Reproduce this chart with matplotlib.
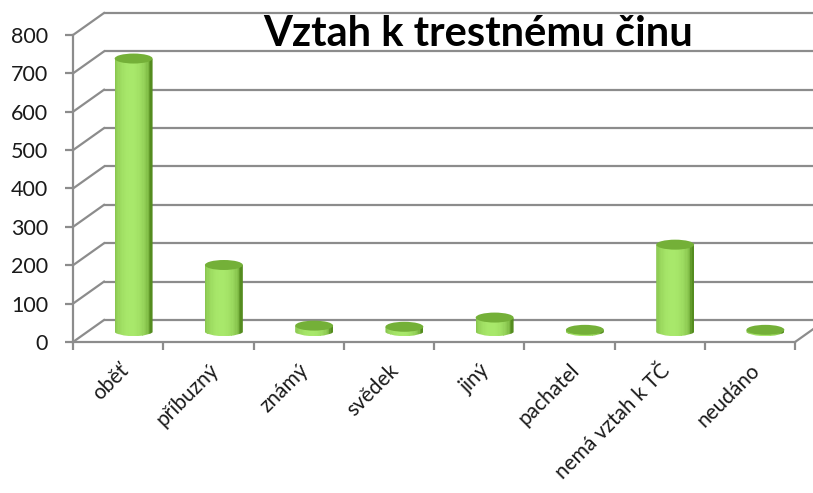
import matplotlib
matplotlib.use("Agg")
import matplotlib.pyplot as plt
import matplotlib.transforms as mtransforms
from matplotlib.path import Path
from matplotlib.patches import PathPatch, Ellipse
import numpy as np

plt.rcParams['font.family'] = ['Lato', 'DejaVu Sans']

# data
categories = ["oběť", "příbuzný", "známý", "svědek", "jiný", "pachatel", "nemá vztah k TČ", "neudáno"]
values = [710, 172, 14, 11, 35, 3, 225, 3]
yticks = [0, 100, 200, 300, 400, 500, 600, 700, 800]
title = "Vztah k trestnému činu"

grid_col = "#8c8c8c"
dark_green = np.array([0.33, 0.55, 0.12])
light_green = np.array([0.66, 0.91, 0.42])
top_green = "#74b038"

fig = plt.figure(figsize=(8.13, 4.93), dpi=100)
ax = fig.add_axes([0.0898, 0.3063, 0.8881, 0.6227])
ax.set_xlim(-0.5, len(categories) - 0.5)
ax.set_ylim(0, 800)

# depth offsets (inches), back wall and middle of the floor
dx, dy = 0.31, 0.22
back = ax.transData + mtransforms.ScaledTranslation(dx, dy, fig.dpi_scale_trans)
mid = ax.transData + mtransforms.ScaledTranslation(dx / 2, dy / 2, fig.dpi_scale_trans)

# size of the depth offset in data units
p0 = ax.transData.inverted().transform(ax.transData.transform((0, 0)))
p1 = ax.transData.inverted().transform(ax.transData.transform((0, 0)) + np.array([dx * 100, dy * 100]))
ddx, ddy = p1 - p0

# back wall grid + left wall diagonals
ax.hlines(yticks, -0.5, len(categories) + 0.5, colors=grid_col, lw=1.6, transform=back, clip_on=False, zorder=1)
for y in yticks:
    ax.plot([-0.5, -0.5 + ddx], [y, y + ddy], color=grid_col, lw=1.6, clip_on=False, zorder=1)
ax.plot([len(categories) - 0.5, len(categories) - 0.5 + ddx], [0, ddy], color=grid_col, lw=1.6, clip_on=False, zorder=1)

# cylinders
w = 0.42
e = 13
n = 30
t = np.linspace(-1, 1, n)
shade = np.clip(np.cos(np.arcsin(np.clip(t * 0.98 + 0.15, -1, 1))), 0, 1) ** 0.8
colors = [tuple(dark_green + (light_green - dark_green) * s) for s in shade]
for i, v in enumerate(values):
    arc = Path.arc(180, 360).transformed(mtransforms.Affine2D().scale(w / 2, e).translate(i, 0))
    verts = np.vstack([[i - w / 2, v], arc.vertices, [i + w / 2, v], [i - w / 2, v]])
    codes = [Path.MOVETO] + [Path.LINETO] * (len(verts) - 1)
    clip = PathPatch(Path(verts, codes), transform=mid, facecolor="none", edgecolor="none")
    ax.add_patch(clip)
    lefts = i - w / 2 + np.arange(n) * w / n
    bars = ax.bar(lefts, v + e, bottom=-e, width=w / n * 1.05, align="edge", color=colors,
                  linewidth=0, transform=mid, zorder=3)
    for b in bars:
        b.set_clip_path(clip)
        b.set_clip_on(True)
    ax.add_patch(Ellipse((i, v), w, 2 * e, facecolor=top_green, edgecolor="none",
                         transform=mid, zorder=4, clip_on=False))

# axes styling
for s in ["top", "right"]:
    ax.spines[s].set_visible(False)
for s in ["left", "bottom"]:
    ax.spines[s].set_color(grid_col)
    ax.spines[s].set_linewidth(1.6)
ax.set_yticks(yticks)
ax.set_yticklabels([str(y) for y in yticks], fontsize=15.5, color="#1a1a1a")
ax.tick_params(axis="y", length=6, width=1.6, color=grid_col, pad=12)
ax.set_xticks(np.arange(len(categories)))
ax.set_xticklabels(categories, rotation=45, ha="right", rotation_mode="anchor", fontsize=15, color="#1a1a1a")
ax.set_xticks(np.arange(len(categories) + 1) - 0.5, minor=True)
ax.tick_params(axis="x", which="major", length=0, pad=13)
ax.tick_params(axis="x", which="minor", length=6, width=1.6, color=grid_col)
ax.patch.set_visible(False)

fig.text(0.588, 0.932, title, fontsize=30, fontweight="bold", ha="center", va="center")

fig.savefig("out.png", dpi=100)
